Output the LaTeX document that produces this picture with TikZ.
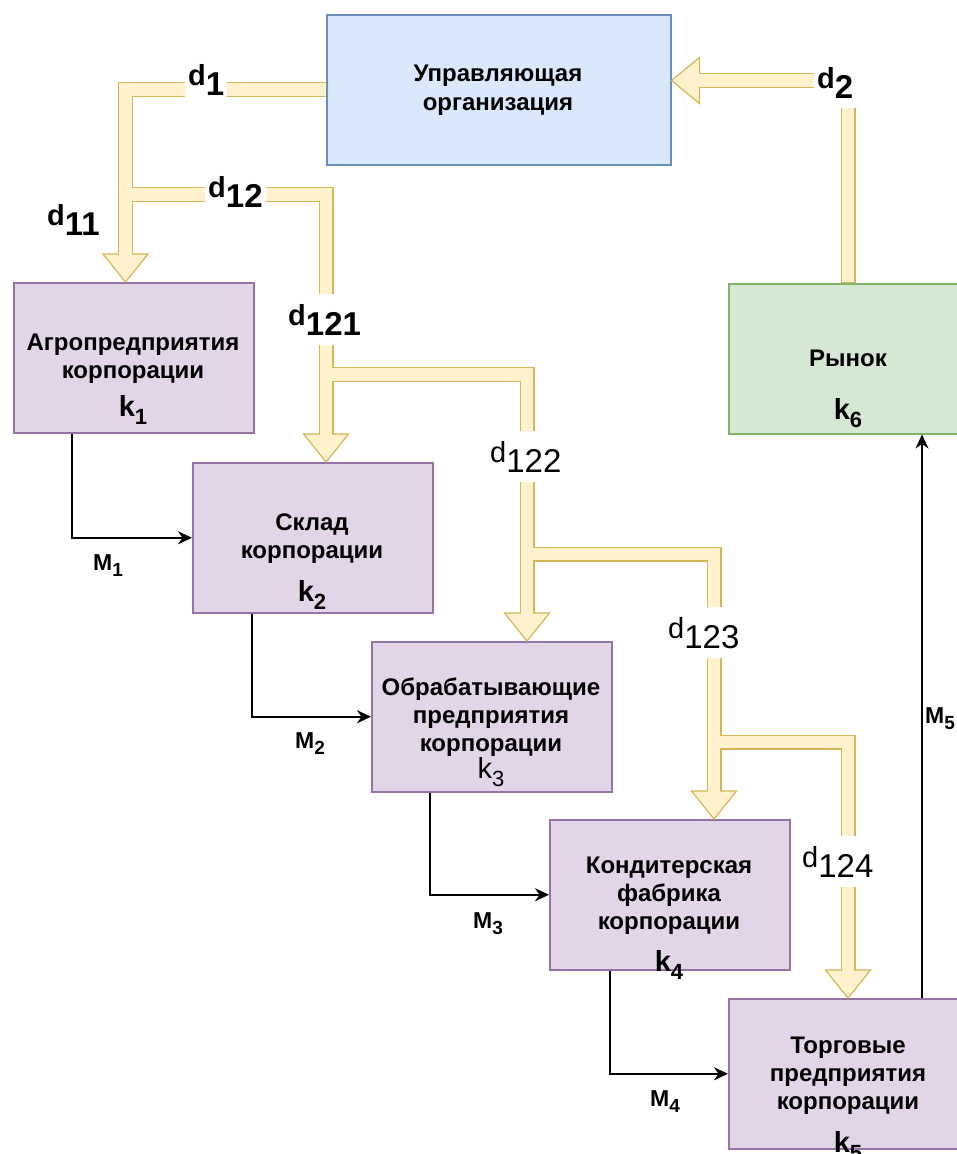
\documentclass[tikz,border=0pt]{standalone}
\usepackage{fontspec}
\setmainfont{Liberation Sans}
\usetikzlibrary{arrows.meta,calc}
\definecolor{yfill}{HTML}{FFF2CC}
\definecolor{ystroke}{HTML}{D6B656}
\definecolor{pfill}{HTML}{E1D5E7}
\definecolor{pstroke}{HTML}{9673A6}
\definecolor{bfill}{HTML}{DAE8FC}
\definecolor{bstroke}{HTML}{6C8EBF}
\definecolor{gfill}{HTML}{D5E8D4}
\definecolor{gstroke}{HTML}{82B366}
\newcommand{\mydl}[1]{{\fontsize{29}{29}\selectfont d}\raisebox{-10pt}{\fontsize{33}{33}\selectfont #1}}
\newcommand{\mydlb}[1]{{\bfseries\mydl{#1}}}
\newcommand{\mykl}[1]{{\fontsize{29}{29}\selectfont k}\raisebox{-8pt}{\fontsize{22}{22}\selectfont #1}}
\newcommand{\myml}[1]{{\fontsize{23}{23}\selectfont M}\raisebox{-6pt}{\fontsize{19}{19}\selectfont #1}}
\tikzset{
  stbox/.style={draw, line width=1.5pt, minimum width=240pt, minimum height=150pt, anchor=north west, inner sep=0pt},
  pbox/.style={stbox, fill=pfill, draw=pstroke},
  btxt/.style={font=\fontsize{24}{28}\selectfont\bfseries, anchor=base, inner sep=0pt},
  ktxt/.style={font=\bfseries, anchor=base, inner sep=0pt},
  ktxtr/.style={anchor=base, inner sep=0pt},
  dlab/.style={fill=white, inner xsep=3pt, inner ysep=10pt, anchor=base west},
  flexout/.style={draw=ystroke, line width=15pt, line join=miter},
  flexin/.style={draw=yfill, line width=12.6pt, line join=miter},
  fhead/.style={fill=yfill, draw=ystroke, line width=1.2pt, line join=miter},
  marr/.style={draw=black, line width=2.2pt, -{Stealth[length=14pt,width=13pt]}},
  mlab/.style={font=\bfseries, anchor=base west, inner sep=0pt}
}
\begin{document}
\begin{tikzpicture}[x=1pt,y=-1pt]
\useasboundingbox (0,0) rectangle (957,1154);
\clip (0,0) rectangle (957,1154);
\fill[white] (0,0) rectangle (957,1154);

% boxes
\node[stbox, fill=bfill, draw=bstroke, minimum width=344pt] (upr) at (326,14) {};
\node[pbox] (agro) at (13,282) {};
\node[pbox] (sklad) at (192,462) {};
\node[pbox] (obr) at (371,641) {};
\node[pbox] (kond) at (549,819) {};
\node[pbox] (torg) at (728,998) {};
\node[stbox, fill=gfill, draw=gstroke] (ryn) at (728,283) {};

% flex arrow coordinates
\coordinate (c1) at (125.5,89.5);
\coordinate (h11) at (agro.north west -| c1);
\coordinate (j12) at (125.5,194.5);
\coordinate (c12) at (326,194.5);
\coordinate (h12) at (sklad.north west -| c12);
\coordinate (j122) at (326,374.5);
\coordinate (c122) at (527,374.5);
\coordinate (h122) at (obr.north west -| c122);
\coordinate (j123) at (527,554);
\coordinate (c123) at (714,554);
\coordinate (h123) at (kond.north west -| c123);
\coordinate (j124) at (714,742);
\coordinate (c124) at (848,742);
\coordinate (h124) at (torg.north west -| c124);
\coordinate (c2) at (848,80.5);
\coordinate (h2) at (upr.east |- c2);

% outer strokes
\draw[flexout] (upr.west |- c1) -- (c1) -- ($(h11)+(0,-28)$);
\draw[flexout] (j12) -- (c12) -- ($(h12)+(0,-28)$);
\draw[flexout] (j122) -- (c122) -- ($(h122)+(0,-28)$);
\draw[flexout] (j123) -- (c123) -- ($(h123)+(0,-28)$);
\draw[flexout] (j124) -- (c124) -- ($(h124)+(0,-28)$);
\draw[flexout] (ryn.north -| c2) -- (c2) -- ($(h2)+(28,0)$);

% heads
\foreach \h in {h11,h12,h122,h123,h124}{
  \draw[fhead] (\h) -- ++(-22.5,-28) -- ++(45,0) -- cycle;
}
\draw[fhead] (h2) -- ++(28,-23) -- ++(0,46) -- cycle;

% inner fills
\draw[flexin] (upr.west |- c1) -- (c1) -- ($(h11)+(0,-26)$);
\draw[flexin] (j12) -- (c12) -- ($(h12)+(0,-26)$);
\draw[flexin] (j122) -- (c122) -- ($(h122)+(0,-26)$);
\draw[flexin] (j123) -- (c123) -- ($(h123)+(0,-26)$);
\draw[flexin] (j124) -- (c124) -- ($(h124)+(0,-26)$);
\draw[flexin] ($(ryn.north -| c2)+(0,-0.8)$) -- (c2) -- ($(h2)+(26,0)$);

% d labels
\node[dlab] (ld1) at (185,85) {\mydlb{1}};
\node[dlab] (ld12) at (205,197) {\mydlb{12}};
\node[dlab, fill=none] (ld11) at (44,225) {\mydlb{11}};
\node[dlab] (ld121) at (285,325) {\mydlb{121}};
\node[dlab] (ld122) at (487,462) {\mydl{122}};
\node[dlab] (ld123) at (665,638) {\mydl{123}};
\node[dlab] (ld124) at (799,867) {\mydl{124}};
\node[dlab] (ld2) at (814,88) {\mydlb{2}};

% box texts
\node[btxt] (tu1) at (498,81) {Управляющая};
\node[btxt] (tu2) at (498,110) {организация};
\node[btxt] (ta1) at (133,350) {Агропредприятия};
\node[btxt] (ta2) at (133,378) {корпорации};
\node[ktxt] (ka) at (133,416) {\mykl{1}};
\node[btxt] (ts1) at (312,530) {Склад};
\node[btxt] (ts2) at (312,558) {корпорации};
\node[ktxt] (ks) at (312,601) {\mykl{2}};
\node[btxt] (to1) at (491,695) {Обрабатывающие};
\node[btxt] (to2) at (491,723) {предприятия};
\node[btxt] (to3) at (491,751) {корпорации};
\node[ktxtr] (ko) at (491,778) {\mykl{3}};
\node[btxt] (tk1) at (669,873) {Кондитерская};
\node[btxt] (tk2) at (669,901) {фабрика};
\node[btxt] (tk3) at (669,929) {корпорации};
\node[ktxt] (kk) at (669,971) {\mykl{4}};
\node[btxt] (tt1) at (848,1053) {Торговые};
\node[btxt] (tt2) at (848,1081) {предприятия};
\node[btxt] (tt3) at (848,1109) {корпорации};
\node[ktxt] (kt) at (848,1152) {\mykl{5}};
\node[btxt] (tr1) at (848,366) {Рынок};
\node[ktxt] (kr) at (848,419) {\mykl{6}};

% material flows
\coordinate (m5x) at (922,0);
\draw[marr] ($(agro.south west)+(59,0)$) |- (sklad.west);
\draw[marr] ($(sklad.south west)+(60,0)$) |- (obr.west);
\draw[marr] ($(obr.south west)+(59,0)$) |- (kond.west);
\draw[marr] ($(kond.south west)+(61,0)$) |- (torg.west);
\draw[marr] (torg.north -| m5x) -- (ryn.south -| m5x);
\node[mlab] (lm1) at (93,570) {\myml{1}};
\node[mlab] (lm2) at (295,748) {\myml{2}};
\node[mlab] (lm3) at (473,928) {\myml{3}};
\node[mlab] (lm4) at (650,1106) {\myml{4}};
\node[mlab] (lm5) at (925,723) {\myml{5}};
\end{tikzpicture}
\end{document}
